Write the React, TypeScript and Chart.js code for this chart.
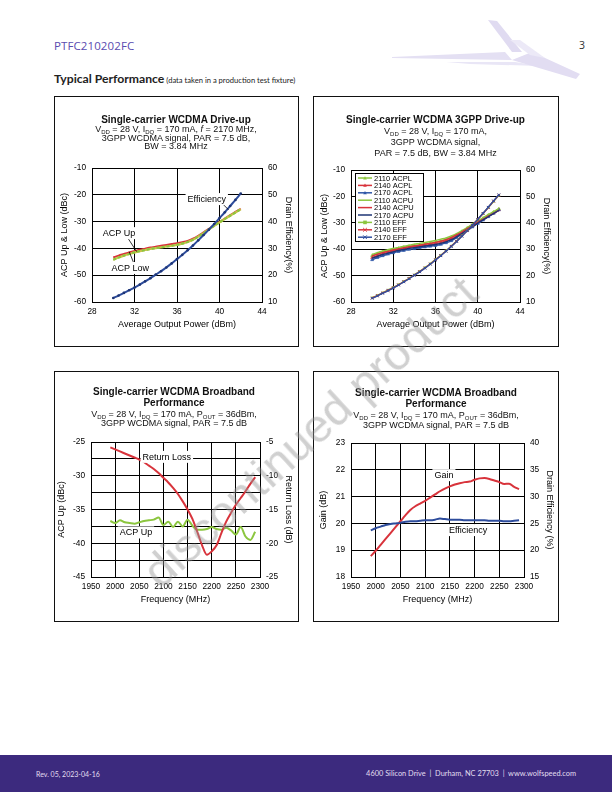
import React, { useEffect, useRef } from "react";
import { Chart, registerables } from "chart.js";
Chart.register(...registerables);

const FONT = "'Liberation Sans', Arial, Helvetica, sans-serif";

// ---------- Chart 1: Single-carrier WCDMA Drive-up ----------
const pwr = [30, 30.5, 31, 31.5, 32, 32.5, 33, 33.5, 34, 34.5, 35, 35.5, 36, 36.5, 37, 37.5, 38, 38.5, 39, 39.5, 40, 40.5, 41, 41.5, 42];
const c1AcpUp = [-43.4, -42.7, -42.1, -41.5, -41.0, -40.5, -40.1, -39.7, -39.4, -39.0, -38.7, -38.4, -38.1, -37.7, -37.2, -36.4, -35.3, -34.0, -32.7, -31.4, -30.1, -28.9, -27.6, -26.4, -25.2];
const c1AcpLow = [-44.2, -43.4, -42.7, -42.1, -41.5, -41.0, -40.6, -40.2, -39.9, -39.6, -39.3, -39.0, -38.7, -38.2, -37.6, -36.8, -35.6, -34.3, -32.9, -31.6, -30.3, -29.0, -27.8, -26.6, -25.4];
const c1Eff = [11.5, 12.4, 13.4, 14.4, 15.4, 16.5, 17.7, 18.9, 20.2, 21.5, 22.9, 24.4, 26.0, 27.6, 29.3, 31.1, 33.0, 35.0, 37.0, 39.1, 41.3, 43.5, 45.8, 48.1, 50.5];

// ---------- Chart 2: Single-carrier WCDMA 3GPP Drive-up ----------
const c2Acpl2110 = [-42.4, -41.7, -41.1, -40.6, -40.1, -39.7, -39.3, -38.9, -38.6, -38.3, -38.0, -37.7, -37.3, -36.9, -36.3, -35.5, -34.5, -33.3, -32.0, -30.7, -29.5, -28.3, -27.1, -25.9, -24.7];
const c2Acpl2140 = [-43.2, -42.5, -41.8, -41.2, -40.7, -40.2, -39.8, -39.4, -39.1, -38.8, -38.5, -38.2, -37.9, -37.5, -36.9, -36.1, -35.0, -33.8, -32.5, -31.2, -29.9, -28.7, -27.5, -26.3, -25.1];
const c2Acpl2170 = [-44.0, -43.2, -42.5, -41.9, -41.4, -40.9, -40.5, -40.1, -39.8, -39.5, -39.2, -38.9, -38.6, -38.2, -37.6, -36.8, -35.6, -34.3, -33.0, -31.6, -30.3, -29.0, -27.7, -26.4, -25.1];
const c2Acpu2110 = [-42.0, -41.3, -40.7, -40.2, -39.7, -39.3, -38.9, -38.5, -38.1, -37.8, -37.4, -37.1, -36.7, -36.2, -35.7, -35.0, -34.1, -33.0, -31.8, -30.5, -29.3, -28.1, -26.9, -25.8, -24.6];
const c2Acpu2140 = [-42.6, -41.9, -41.3, -40.8, -40.3, -39.9, -39.5, -39.1, -38.8, -38.5, -38.1, -37.8, -37.4, -37.0, -36.4, -35.6, -34.6, -33.5, -32.2, -31.0, -29.8, -28.7, -27.5, -26.4, -25.3];
const c2Acpu2170 = [-43.4, -42.7, -42.0, -41.5, -41.0, -40.5, -40.1, -39.7, -39.4, -39.1, -38.8, -38.5, -38.2, -37.8, -37.2, -36.4, -35.3, -34.1, -32.8, -31.4, -30.1, -28.9, -27.7, -26.5, -25.3];
const c2Eff2110 = [11.6, 12.5, 13.5, 14.5, 15.5, 16.6, 17.8, 19.0, 20.3, 21.6, 23.0, 24.5, 26.1, 27.7, 29.4, 31.2, 33.1, 35.1, 37.1, 39.2, 41.3, 43.5, 45.8, 48.1, 50.4];
const c2Eff2140 = [11.5, 12.4, 13.4, 14.4, 15.4, 16.5, 17.7, 18.9, 20.2, 21.5, 22.9, 24.4, 26.0, 27.6, 29.3, 31.1, 33.0, 35.0, 37.0, 39.1, 41.3, 43.5, 45.8, 48.2, 50.5];
const c2Eff2170 = [11.4, 12.3, 13.3, 14.3, 15.3, 16.4, 17.6, 18.8, 20.1, 21.4, 22.8, 24.3, 25.9, 27.5, 29.2, 31.0, 32.9, 34.9, 37.0, 39.1, 41.3, 43.6, 45.9, 48.3, 50.6];

// ---------- Chart 3 & 4: Broadband ----------
const freq = [1990, 2000, 2010, 2020, 2030, 2040, 2050, 2060, 2070, 2080, 2090, 2100, 2110, 2120, 2130, 2140, 2150, 2160, 2170, 2180, 2190, 2200, 2210, 2220, 2230, 2240, 2250, 2260, 2270, 2280, 2290];
const c3ReturnLoss = [-5.8, -6.1, -6.4, -6.7, -7.0, -7.3, -7.6, -8.0, -8.5, -9.0, -9.6, -10.3, -11.0, -11.8, -12.7, -13.8, -15.0, -16.4, -18.3, -20.3, -21.7, -21.2, -20.3, -18.5, -16.8, -15.5, -14.3, -13.3, -12.3, -11.2, -10.2];
const c3AcpUp = [-36.7, -37.0, -36.6, -36.9, -37.0, -37.1, -36.9, -36.7, -36.6, -36.5, -36.2, -37.3, -36.8, -37.6, -36.8, -37.5, -36.5, -37.4, -38.0, -38.0, -37.9, -37.6, -37.9, -38.0, -37.7, -38.1, -38.7, -37.6, -39.0, -39.5, -38.3];
const c4Gain = [18.78, 18.98, 19.2, 19.42, 19.64, 19.86, 20.08, 20.3, 20.5, 20.64, 20.74, 20.84, 20.96, 21.08, 21.2, 21.3, 21.38, 21.45, 21.5, 21.54, 21.56, 21.63, 21.68, 21.69, 21.66, 21.6, 21.54, 21.47, 21.48, 21.36, 21.28];
const c4Eff = [23.7, 24.1, 24.4, 24.7, 24.9, 25.0, 25.1, 25.3, 25.4, 25.4, 25.5, 25.6, 25.6, 25.7, 25.9, 25.8, 25.7, 25.7, 25.7, 25.6, 25.6, 25.6, 25.6, 25.6, 25.5, 25.5, 25.5, 25.4, 25.4, 25.5, 25.6];

const RED = "#d8333b";
const GREEN = "#8cc63f";
const BLUE = "#2d4c9c";
const NAVY = "#1e3575";

const zip = (xs: number[], ys: number[]) => xs.map((x, i) => ({ x, y: ys[i] }));

const tickFont = { family: FONT, size: 8.3 };
const titleFont = { family: FONT, size: 9 };
const plain = (v: any) => String(v);

function axisX(min: number, max: number, step: number, title: string, h: number, tpad: number) {
  return {
    type: "linear", position: "bottom", min, max,
    ticks: { stepSize: step, color: "#000", font: tickFont, padding: 5, maxRotation: 0, autoSkip: false, callback: plain },
    grid: { color: "#000", lineWidth: 1, drawTicks: false },
    border: { color: "#000", width: 1 },
    title: { display: true, text: title, color: "#000", font: titleFont, padding: { top: 0, bottom: tpad } },
    afterFit: (s: any) => { s.height = h; },
  };
}

function axisY(pos: string, min: number, max: number, step: number, title: string, w: number, tpad: number, grid: boolean, cb?: (v: any) => string) {
  const ticks: any = { stepSize: step, color: "#000", font: tickFont, padding: 6, autoSkip: false, callback: cb || plain };
  return {
    type: "linear", position: pos, min, max,
    ticks,
    grid: { display: grid, color: "#000", lineWidth: 1, drawTicks: false },
    border: { display: true, color: "#000", width: 1 },
    title: { display: true, text: title, color: "#000", font: titleFont, padding: { top: tpad, bottom: 0 } },
    afterFit: (s: any) => { s.width = w; },
  };
}

type Note = { text: string; x: number; y: number; axis?: string; bg?: boolean; lines?: number[][] };
function notesPlugin(notes: Note[]) {
  return {
    id: "notes",
    afterDatasetsDraw(chart: any) {
      const ctx = chart.ctx;
      const xs = chart.scales.x;
      ctx.save();
      ctx.font = `9px ${FONT}`;
      ctx.textAlign = "center";
      ctx.textBaseline = "middle";
      for (const n of notes) {
        const ys = chart.scales[n.axis || "y"];
        if (n.lines) {
          ctx.strokeStyle = "#000";
          ctx.lineWidth = 0.8;
          for (const l of n.lines) {
            ctx.beginPath();
            ctx.moveTo(xs.getPixelForValue(l[0]), ys.getPixelForValue(l[1]));
            ctx.lineTo(xs.getPixelForValue(l[2]), ys.getPixelForValue(l[3]));
            ctx.stroke();
          }
        }
        const px = xs.getPixelForValue(n.x);
        const py = ys.getPixelForValue(n.y);
        const w = ctx.measureText(n.text).width;
        if (n.bg !== false) {
          ctx.fillStyle = "#fff";
          ctx.fillRect(px - w / 2 - 2, py - 6, w + 4, 12);
        }
        ctx.fillStyle = "#000";
        ctx.fillText(n.text, px, py + 0.5);
      }
      ctx.restore();
    },
  };
}

function drawMarker(ctx: any, style: string, x: number, y: number, r: number, color: string) {
  ctx.save();
  ctx.fillStyle = color;
  ctx.strokeStyle = color;
  ctx.lineWidth = 1;
  ctx.beginPath();
  if (style === "triangle") {
    ctx.moveTo(x, y - r);
    ctx.lineTo(x + r, y + r * 0.8);
    ctx.lineTo(x - r, y + r * 0.8);
    ctx.closePath();
    ctx.fill();
  } else if (style === "rect") {
    ctx.rect(x - r, y - r, 2 * r, 2 * r);
    ctx.fill();
  } else if (style === "crossRot") {
    ctx.moveTo(x - r, y - r); ctx.lineTo(x + r, y + r);
    ctx.moveTo(x + r, y - r); ctx.lineTo(x - r, y + r);
    ctx.stroke();
  }
  ctx.restore();
}

const legendPlugin = {
  id: "boxLegend",
  afterDatasetsDraw(chart: any) {
    const ctx = chart.ctx;
    const a = chart.chartArea;
    const x0 = a.left + 4, y0 = a.top + 3, w = 68, h = 68;
    ctx.save();
    ctx.fillStyle = "#fff";
    ctx.fillRect(x0, y0, w, h);
    ctx.strokeStyle = "#000";
    ctx.lineWidth = 1;
    ctx.strokeRect(Math.round(x0) + 0.5, Math.round(y0) + 0.5, w, h);
    ctx.font = `7.5px ${FONT}`;
    ctx.textBaseline = "middle";
    ctx.textAlign = "left";
    chart.data.datasets.forEach((ds: any, i: number) => {
      const yy = y0 + 5 + i * 7.4;
      ctx.strokeStyle = ds.borderColor;
      ctx.lineWidth = 1.5;
      ctx.beginPath();
      ctx.moveTo(x0 + 3, yy);
      ctx.lineTo(x0 + 17, yy);
      ctx.stroke();
      if (ds.pointRadius > 0) drawMarker(ctx, ds.pointStyle, x0 + 10, yy, 1.8, ds.borderColor);
      ctx.fillStyle = "#000";
      ctx.fillText(ds.label, x0 + 19, yy + 0.5);
    });
    ctx.restore();
  },
};

function line(label: string, xs: number[], ys: number[], color: string, axis: string, extra: any = {}) {
  return {
    label, data: zip(xs, ys), yAxisID: axis, borderColor: color, backgroundColor: color,
    borderWidth: 2, pointRadius: 0, tension: 0.35, cubicInterpolationMode: "monotone", ...extra,
  };
}

const baseOpts = (padTop: number, padBottom: number) => ({
  responsive: false,
  maintainAspectRatio: false,
  animation: false,
  devicePixelRatio: 1,
  layout: { padding: { top: padTop, bottom: padBottom, left: 0, right: 0 } },
  plugins: { legend: { display: false }, title: { display: false }, tooltip: { enabled: false } },
});

const BOX1 = { x: 54, y: 96, w: 245, h: 251 };
const BOX2 = { x: 313, y: 96, w: 246, h: 251 };
const BOX3 = { x: 54, y: 371, w: 245, h: 251 };
const BOX4 = { x: 313, y: 371, w: 246, h: 251 };

function config1(): any {
  return {
    type: "line",
    data: {
      datasets: [
        line("Efficiency", pwr, c1Eff, BLUE, "y2", { pointRadius: 1.3, pointBackgroundColor: NAVY, pointBorderWidth: 0 }),
        line("ACP Low", pwr, c1AcpLow, GREEN, "y", { borderWidth: 2.2, borderDash: [3, 2] }),
        line("ACP Low base", pwr, c1AcpLow, "#c8c24a", "y", { borderWidth: 2.2 }),
        line("ACP Up", pwr, c1AcpUp, RED, "y"),
      ],
    },
    options: {
      ...baseOpts(72, 15),
      scales: {
        x: axisX(28, 44, 4, "Average Output Power (dBm)", 30, 2.3),
        y: axisY("left", -60, -10, 10, "ACP Up & Low (dBc)", 38, 5.6, true),
        y2: axisY("right", 10, 60, 10, "Drain Efficiency(%)", 37, 5.6, false),
      },
    },
    plugins: [notesPlugin([
      { text: "Efficiency", x: 38.8, y: -21.6, lines: [[40.3, -23.4, 40.85, -25.6]] },
      { text: "ACP Up", x: 30.55, y: -34.3, lines: [[31.4, -36.3, 32.2, -41.2]] },
      { text: "ACP Low", x: 31.6, y: -47.3, lines: [[32.0, -46.2, 31.5, -41.2]] },
    ])],
  };
}

function config2(): any {
  const tri = { pointStyle: "triangle", pointRadius: 1.8, pointBorderWidth: 0.5, borderWidth: 1.4 };
  const ds = [
    line("2110 ACPL", pwr, c2Acpl2110, GREEN, "y", tri),
    line("2140 ACPL", pwr, c2Acpl2140, RED, "y", tri),
    line("2170 ACPL", pwr, c2Acpl2170, "#2f57a8", "y", tri),
    line("2110 ACPU", pwr, c2Acpu2110, GREEN, "y", { borderWidth: 1.4 }),
    line("2140 ACPU", pwr, c2Acpu2140, RED, "y", { borderWidth: 1.4 }),
    line("2170 ACPU", pwr, c2Acpu2170, NAVY, "y", { borderWidth: 1.4 }),
    line("2110 EFF", pwr, c2Eff2110, GREEN, "y2", { pointStyle: "rect", pointRadius: 1.3, pointBorderWidth: 0.5, borderWidth: 1.4 }),
    line("2140 EFF", pwr, c2Eff2140, RED, "y2", { pointStyle: "crossRot", pointRadius: 1.8, pointBorderWidth: 1, borderWidth: 1.4 }),
    line("2170 EFF", pwr, c2Eff2170, "#2f4f9f", "y2", { pointStyle: "crossRot", pointRadius: 1.8, pointBorderWidth: 1, borderWidth: 1.4 }),
  ];
  ds.forEach((d: any, i: number) => { d.order = ds.length - i; });
  return {
    type: "line",
    data: { datasets: ds },
    options: {
      ...baseOpts(74, 15),
      scales: {
        x: axisX(28, 44, 4, "Average Output Power (dBm)", 30, 2.3),
        y: axisY("left", -60, -10, 10, "ACP Up & Low (dBc)", 38, 6.6, true),
        y2: axisY("right", 10, 60, 10, "Drain Efficiency(%)", 39, 7.6, false),
      },
    },
    plugins: [legendPlugin],
  };
}

function config3(): any {
  return {
    type: "line",
    data: {
      datasets: [
        line("Return Loss", freq, c3ReturnLoss, RED, "y2"),
        line("ACP Up", freq, c3AcpUp, GREEN, "y", { tension: 0.4 }),
      ],
    },
    options: {
      ...baseOpts(71, 15),
      scales: {
        x: axisX(1950, 2300, 50, "Frequency (MHz)", 30, 1.6),
        y: axisY("left", -45, -25, 2.5, "ACP Up (dBc)", 37, 2.6, true, (v: any) => (Number(v) % 5 === 0 ? String(v) : "")),
        y2: axisY("right", -25, -5, 5, "Return Loss (dB)", 39, 5.6, false),
      },
    },
    plugins: [notesPlugin([
      { text: "Return Loss", x: 2107, y: -27.2 },
      { text: "ACP Up", x: 2043, y: -38.4 },
    ])],
  };
}

function config4(): any {
  return {
    type: "line",
    data: {
      datasets: [
        line("Efficiency", freq, c4Eff, BLUE, "y2"),
        line("Gain", freq, c4Gain, RED, "y"),
      ],
    },
    options: {
      ...baseOpts(72, 15),
      scales: {
        x: axisX(1950, 2300, 50, "Frequency (MHz)", 30, 1.6),
        y: axisY("left", 18, 23, 1, "Gain (dB)", 38, 5.6, true),
        y2: axisY("right", 15, 40, 5, "Drain Efficiency (%)", 35, 4.6, false),
      },
    },
    plugins: [notesPlugin([
      { text: "Gain", x: 2138, y: 21.8 },
      { text: "Efficiency", x: 2187, y: 19.75 },
    ])],
  };
}

function Panel({ box, make }: { box: any; make: () => any }) {
  const ref = useRef<HTMLCanvasElement>(null);
  useEffect(() => {
    const c = new Chart(ref.current as HTMLCanvasElement, make());
    return () => c.destroy();
  }, []);
  return (
    <>
      <div style={{ position: "absolute", left: box.x, top: box.y, width: box.w, height: box.h, border: "1px solid #111", boxSizing: "border-box" }} />
      <canvas ref={ref} width={box.w} height={box.h} style={{ position: "absolute", left: box.x, top: box.y, width: box.w, height: box.h }} />
    </>
  );
}

const Sub = ({ children }: { children: any }) => (
  <span style={{ fontSize: "6px", position: "relative", top: "2px" }}>{children}</span>
);

function TLine({ cx, cy, bold, children }: { cx: number; cy: number; bold?: boolean; children: any }) {
  return (
    <div style={{
      position: "absolute", left: cx - 150, width: 300, top: cy - 6, height: 12, lineHeight: "12px",
      textAlign: "center", fontFamily: FONT, fontSize: bold ? "10px" : "9px", fontWeight: bold ? 700 : 400,
      color: "#111", whiteSpace: "nowrap",
    }}>{children}</div>
  );
}

export default function App() {
  return (
    <div style={{ position: "absolute", left: 0, top: 0, width: 612, height: 792, background: "#fff", overflow: "hidden" }}>
      {/* header logo */}
      <svg style={{ position: "absolute", left: 0, top: 0 }} width={612} height={100}>
        <polygon points="392,57 505,52 512,60 392,58" fill="#e4e0f3" />
        <polygon points="446,62 515,62 540,66 470,64" fill="#e9e6f6" />
        <polygon points="488,20 497,21 522,52 512,52" fill="#e0dbf1" />
        <polygon points="512,60 532,52 580,74 576,79" fill="#e2ddf2" />
        <polygon points="510,40 520,40 545,58 530,55" fill="#ece9f7" />
      </svg>
      <div style={{ position: "absolute", left: 54, top: 38, fontFamily: "'Open Sans', sans-serif", fontSize: "11.5px", color: "#5a4bb0", lineHeight: "15px", letterSpacing: "0.1px" }}>PTFC210202FC</div>
      <div style={{ position: "absolute", left: 579, top: 38, fontFamily: "'Open Sans', sans-serif", fontSize: "10.5px", color: "#333", lineHeight: "14px" }}>3</div>
      <div style={{ position: "absolute", left: 54, top: 70, fontFamily: "Lato, sans-serif", lineHeight: "14px", color: "#222", whiteSpace: "nowrap" }}>
        <span style={{ fontSize: "12.2px", fontWeight: 700 }}>Typical Performance</span>
        <span style={{ fontSize: "7.6px" }}> (data taken in a production test fixture)</span>
      </div>

      <Panel box={BOX1} make={config1} />
      <Panel box={BOX2} make={config2} />
      <Panel box={BOX3} make={config3} />
      <Panel box={BOX4} make={config4} />

      {/* Chart titles */}
      <TLine cx={176} cy={120} bold>Single-carrier WCDMA Drive-up</TLine>
      <TLine cx={176} cy={129.3}>V<Sub>DD</Sub> = 28 V, I<Sub>DQ</Sub> = 170 mA, <i>f</i> = 2170 MHz,</TLine>
      <TLine cx={176} cy={137.6}>3GPP WCDMA signal, PAR = 7.5 dB,</TLine>
      <TLine cx={176} cy={146.3}>BW = 3.84 MHz</TLine>

      <TLine cx={435.5} cy={120.3} bold>Single-carrier WCDMA 3GPP Drive-up</TLine>
      <TLine cx={435.5} cy={130.7}>V<Sub>DD</Sub> = 28 V, I<Sub>DQ</Sub> = 170 mA,</TLine>
      <TLine cx={435.5} cy={141.7}>3GPP WCDMA signal,</TLine>
      <TLine cx={435.5} cy={152.7}>PAR = 7.5 dB, BW = 3.84 MHz</TLine>

      <TLine cx={174} cy={391.7} bold>Single-carrier WCDMA Broadband</TLine>
      <TLine cx={174} cy={402.7} bold>Performance</TLine>
      <TLine cx={174} cy={413.8}>V<Sub>DD</Sub> = 28 V, I<Sub>DQ</Sub> = 170 mA, P<Sub>OUT</Sub> = 36dBm,</TLine>
      <TLine cx={174} cy={423.3}>3GPP WCDMA signal, PAR = 7.5 dB</TLine>

      <TLine cx={436} cy={392.7} bold>Single-carrier WCDMA Broadband</TLine>
      <TLine cx={436} cy={404.3} bold>Performance</TLine>
      <TLine cx={436} cy={415}>V<Sub>DD</Sub> = 28 V, I<Sub>DQ</Sub> = 170 mA, P<Sub>OUT</Sub> = 36dBm,</TLine>
      <TLine cx={436} cy={425}>3GPP WCDMA signal, PAR = 7.5 dB</TLine>

      {/* watermark */}
      <div style={{
        position: "absolute", left: 310, top: 432, transform: "translate(-50%, -50%) rotate(-42.5deg)",
        fontFamily: FONT, fontSize: "47px", color: "rgba(150,150,150,0.45)", whiteSpace: "nowrap", pointerEvents: "none", lineHeight: "50px",
      }}>discontinued product</div>

      {/* footer */}
      <div style={{ position: "absolute", left: 0, top: 755, width: 612, height: 37, background: "#3c2a7e" }} />
      <div style={{ position: "absolute", left: 36, top: 768, fontFamily: "Lato, sans-serif", fontSize: "7px", color: "#e2def0", lineHeight: "12px" }}>Rev. 05, 2023-04-16</div>
      <div style={{ position: "absolute", right: 36, top: 768, fontFamily: "Lato, sans-serif", fontSize: "7.4px", color: "#e2def0", lineHeight: "12px", whiteSpace: "pre" }}>4600 Silicon Drive  |  Durham, NC 27703  |  www.wolfspeed.com</div>
    </div>
  );
}
